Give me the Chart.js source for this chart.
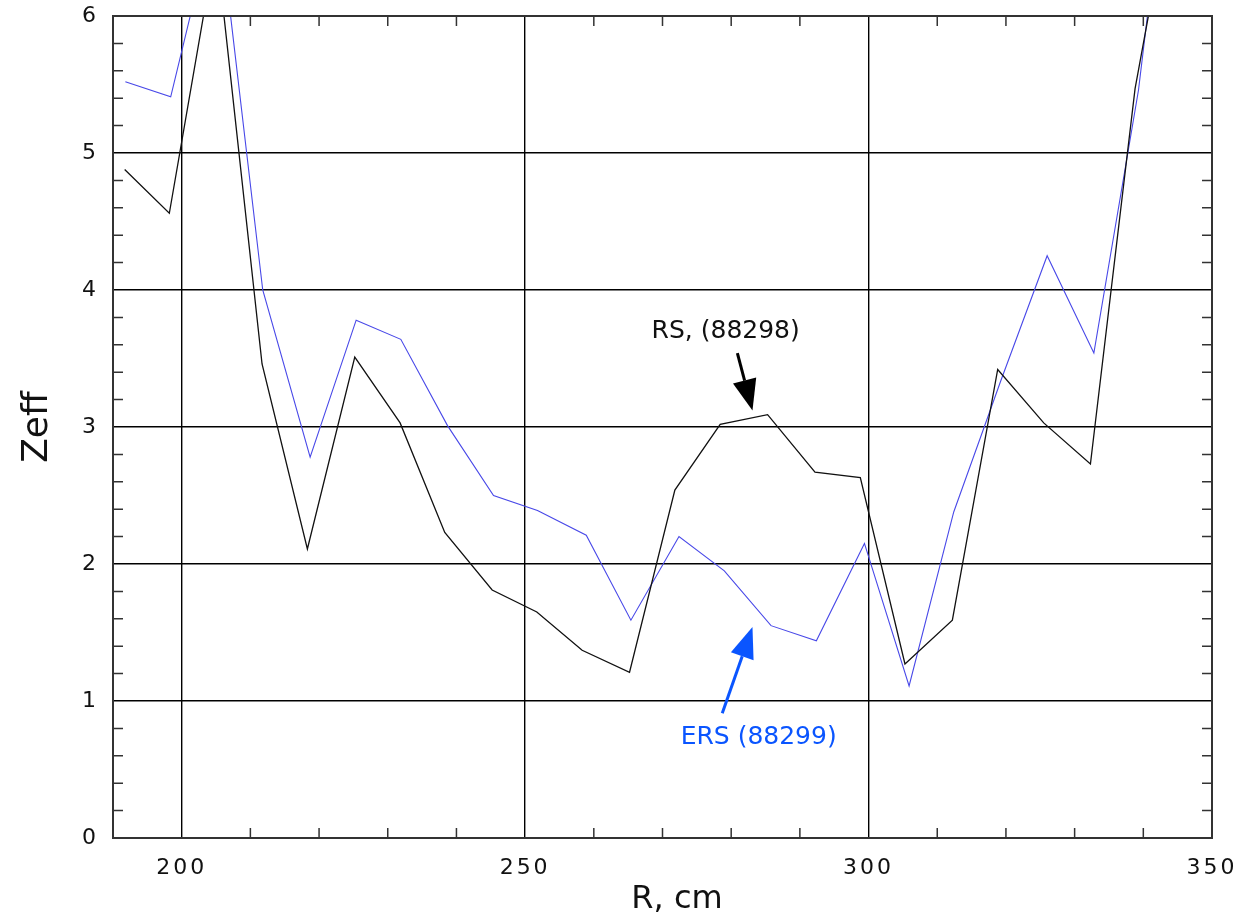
<!DOCTYPE html>
<html>
<head>
    <title>Zeff profile</title>
    <style>
        body { margin: 0; background: #fff; }
        #wrap { width: 1247px; height: 920px; }
    </style>
</head>
<body>
<div id="wrap"><canvas id="zeffChart" width="1247" height="920"></canvas></div>
<script src="https://cdn.jsdelivr.net/npm/chart.js"></script>
<script>
// RS shot 88298 (black)
var rsR    = [191.7, 198.2, 205.0, 211.7, 218.3, 225.2, 231.8, 238.3, 245.2, 251.7, 258.3, 265.2,
              271.8, 278.4, 285.3, 292.2, 298.8, 305.3, 312.2, 318.8, 325.5, 332.3, 338.8, 345.5];
var rsZeff = [4.88, 4.56, 6.53, 3.46, 2.11, 3.51, 3.03, 2.23, 1.81, 1.65, 1.37, 1.21,
              2.54, 3.02, 3.09, 2.67, 2.63, 1.27, 1.59, 3.42, 3.03, 2.73, 5.47, 7.3];
// ERS shot 88299 (blue)
var ersR    = [191.8, 198.4, 205.2, 211.8, 218.7, 225.4, 231.9, 238.7, 245.4, 251.8, 258.9, 265.4,
               272.4, 279.0, 285.8, 292.4, 299.4, 305.9, 312.4, 319.2, 326.0, 332.8, 339.3, 346.0];
var ersZeff = [5.52, 5.41, 6.82, 4.0, 2.78, 3.78, 3.64, 3.01, 2.50, 2.39, 2.21, 1.59,
               2.20, 1.95, 1.55, 1.44, 2.15, 1.11, 2.38, 3.33, 4.25, 3.54, 5.46, 8.25];

var xTicks = [200, 250, 300, 350];
var yTicks = [0, 1, 2, 3, 4, 5, 6];
var xMinorStep = 10;
var yMinorStep = 0.2;

function toPoints(xs, ys) {
    return xs.map(function(x, i) { return {x: x, y: ys[i]}; });
}

var BLUE_TXT = '#0a55ff';

// frame, inward minor ticks, axis titles and the two labelled arrows
var decorPlugin = {
    id: 'decor',
    beforeDraw: function(chart) { chart.ctx.letterSpacing = '3px'; },
    afterDraw: function(chart) {
        var ctx = chart.ctx, a = chart.chartArea;
        var xs = chart.scales.x, ys = chart.scales.y;
        ctx.save();
        ctx.letterSpacing = '0px';
        ctx.strokeStyle = '#333';
        ctx.lineWidth = 1.5;
        ctx.beginPath();
        for (var v = 190 + xMinorStep; v < 350; v += xMinorStep) {
            if (v % 50 === 0) continue;
            var px = xs.getPixelForValue(v);
            ctx.moveTo(px, a.top); ctx.lineTo(px, a.top + 10);
            ctx.moveTo(px, a.bottom); ctx.lineTo(px, a.bottom - 10);
        }
        for (var k = 1; k < 30; k++) {
            if (k % 5 === 0) continue;
            var py = ys.getPixelForValue(k * yMinorStep);
            ctx.moveTo(a.left, py); ctx.lineTo(a.left + 10, py);
            ctx.moveTo(a.right, py); ctx.lineTo(a.right - 10, py);
        }
        ctx.stroke();
        ctx.lineWidth = 2;
        ctx.strokeRect(a.left, a.top, a.right - a.left, a.bottom - a.top);

        // axis titles
        ctx.fillStyle = '#111';
        ctx.textAlign = 'center';
        ctx.textBaseline = 'middle';
        ctx.font = '32px "DejaVu Sans"';
        ctx.fillText('R, cm', a.left + 564, 900);
        ctx.save();
        ctx.translate(38, (a.top + a.bottom) / 2);
        ctx.rotate(-Math.PI / 2);
        ctx.font = '36px "DejaVu Sans"';
        ctx.fillText('Zeff', 0, 0);
        ctx.restore();

        function arrow(x0, y0, x1, y1, color) {
            var p0 = [xs.getPixelForValue(x0), ys.getPixelForValue(y0)];
            var p1 = [xs.getPixelForValue(x1), ys.getPixelForValue(y1)];
            var ang = Math.atan2(p1[1] - p0[1], p1[0] - p0[0]);
            var hl = 31, hw = 12;
            var bx = p1[0] - hl * Math.cos(ang), by = p1[1] - hl * Math.sin(ang);
            ctx.strokeStyle = color; ctx.fillStyle = color; ctx.lineWidth = 3;
            ctx.beginPath(); ctx.moveTo(p0[0], p0[1]); ctx.lineTo(bx, by); ctx.stroke();
            ctx.beginPath();
            ctx.moveTo(p1[0], p1[1]);
            ctx.lineTo(bx + hw * Math.sin(ang), by - hw * Math.cos(ang));
            ctx.lineTo(bx - hw * Math.sin(ang), by + hw * Math.cos(ang));
            ctx.closePath(); ctx.fill();
        }
        ctx.font = '25px "DejaVu Sans"';
        ctx.fillStyle = '#111';
        ctx.fillText('RS, (88298)', xs.getPixelForValue(279.2), ys.getPixelForValue(3.70));
        arrow(280.9, 3.54, 283.1, 3.12, '#000');
        ctx.fillStyle = BLUE_TXT;
        ctx.fillText('ERS (88299)', xs.getPixelForValue(284.0), ys.getPixelForValue(0.73));
        arrow(278.7, 0.91, 283.1, 1.54, BLUE_TXT);
        ctx.restore();
    }
};

var ctx = document.getElementById('zeffChart').getContext('2d');
var myChart = new Chart(ctx, {
    type: 'line',
    data: {
        datasets: [{
            label: 'RS, (88298)',
            data: toPoints(rsR, rsZeff),
            borderColor: '#111',
            borderWidth: 1.3,
            pointRadius: 0,
            tension: 0
        }, {
            label: 'ERS (88299)',
            data: toPoints(ersR, ersZeff),
            borderColor: '#4848e8',
            borderWidth: 1.1,
            pointRadius: 0,
            tension: 0
        }]
    },
    options: {
        responsive: false,
        animation: false,
        devicePixelRatio: 1,
        layout: { padding: { top: 16, right: 35, left: 0, bottom: 0 } },
        plugins: { legend: { display: false }, tooltip: { enabled: false } },
        scales: {
            x: {
                type: 'linear',
                min: 190, max: 350,
                afterBuildTicks: function(s) { s.ticks = xTicks.map(function(v) { return {value: v}; }); },
                afterFit: function(s) { s.height = 82; s.paddingLeft = 0; s.paddingRight = 0; },
                grid: { color: '#000', lineWidth: 1.4, drawTicks: false },
                border: { display: false },
                ticks: { color: '#111', font: { family: 'DejaVu Sans', size: 22 }, padding: 17, maxRotation: 0 }
            },
            y: {
                min: 0, max: 6,
                afterBuildTicks: function(s) { s.ticks = yTicks.map(function(v) { return {value: v}; }); },
                afterFit: function(s) { s.width = 113; s.paddingTop = 0; s.paddingBottom = 0; },
                grid: { color: '#000', lineWidth: 1.4, drawTicks: false },
                border: { display: false },
                ticks: { color: '#111', font: { family: 'DejaVu Sans', size: 22 }, padding: 14 }
            }
        }
    },
    plugins: [decorPlugin]
});
</script>
</body>
</html>
